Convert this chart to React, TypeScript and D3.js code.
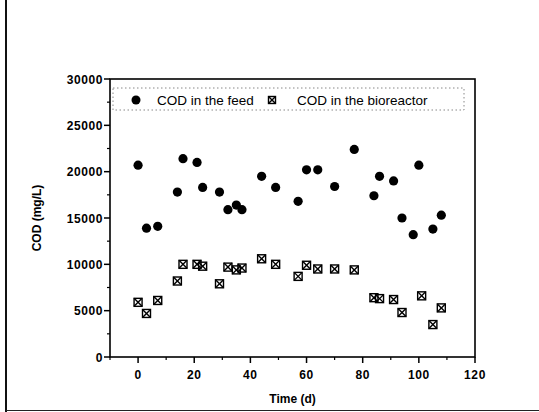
import React from "react";
import * as d3 from "d3";

const feedTime = [0, 3, 7, 14, 16, 21, 23, 29, 32, 35, 37, 44, 49, 57, 60, 64, 70, 77, 84, 86, 91, 94, 98, 100, 105, 108];
const feedCOD = [20700, 13900, 14100, 17800, 21400, 21000, 18300, 17800, 15900, 16400, 15900, 19500, 18300, 16800, 20200, 20200, 18400, 22400, 17400, 19500, 19000, 15000, 13200, 20700, 13800, 15300];
const bioTime = [0, 3, 7, 14, 16, 21, 23, 29, 32, 35, 37, 44, 49, 57, 60, 64, 70, 77, 84, 86, 91, 94, 101, 105, 108];
const bioCOD = [5900, 4700, 6100, 8200, 10000, 10000, 9800, 7900, 9700, 9400, 9600, 10600, 10000, 8700, 9900, 9500, 9500, 9400, 6400, 6300, 6200, 4800, 6600, 3500, 5300];
const xTicks = [0, 20, 40, 60, 80, 100, 120];
const xMinor = [-10, 10, 30, 50, 70, 90, 110];
const yTicks = [0, 5000, 10000, 15000, 20000, 25000, 30000];
const yMinor = [2500, 7500, 12500, 17500, 22500, 27500];
const seriesNames = ["COD in the feed", "COD in the bioreactor"];

const W = 539, H = 412;
const L = 110, R = 475, T = 79, B = 357;
const font = "'Liberation Sans', Arial, sans-serif";

function BioMarker({ x, y, s = 4 }: { x: number; y: number; s?: number }) {
  return (
    <g transform={`translate(${x},${y})`} stroke="#000" strokeWidth={1.4} fill="none">
      <rect x={-s} y={-s} width={2 * s} height={2 * s} />
      <line x1={-s} y1={-s} x2={s} y2={s} />
      <line x1={-s} y1={s} x2={s} y2={-s} />
    </g>
  );
}

export default function App() {
  const x = d3.scaleLinear().domain([-10, 120]).range([L, R]);
  const y = d3.scaleLinear().domain([0, 30000]).range([B, T]);
  return (
    <svg width={W} height={H} style={{ position: "absolute", left: 0, top: 0, background: "#fff" }} fontFamily={font}>
      <rect x={0} y={0} width={W} height={H} fill="#fff" />
      {/* page scan borders */}
      <line x1={6} y1={0} x2={6} y2={H} stroke="#111" strokeWidth={2} />
      <line x1={6} y1={410.5} x2={W} y2={410.5} stroke="#222" strokeWidth={1.2} />
      {/* frame */}
      <rect x={L} y={T} width={R - L} height={B - T} fill="none" stroke="#000" strokeWidth={1.6} />
      {/* x ticks */}
      {xTicks.map((t) => (
        <g key={"xt" + t}>
          <line x1={x(t)} x2={x(t)} y1={B} y2={B + 6} stroke="#000" strokeWidth={1.5} />
          <text x={x(t)} y={379} textAnchor="middle" fontSize={12} fontWeight="bold" letterSpacing={0.6}>{t}</text>
        </g>
      ))}
      {xMinor.map((t) => (
        <line key={"xm" + t} x1={x(t)} x2={x(t)} y1={B} y2={B + 3} stroke="#000" strokeWidth={1.2} />
      ))}
      {yTicks.map((v) => (
        <g key={"yt" + v}>
          <line x1={L - 6} x2={L} y1={y(v)} y2={y(v)} stroke="#000" strokeWidth={1.5} />
          <text x={103} y={y(v) + 4.5} textAnchor="end" fontSize={12} fontWeight="bold" letterSpacing={0.6}>{v}</text>
        </g>
      ))}
      {yMinor.map((v) => (
        <line key={"ym" + v} x1={L - 3} x2={L} y1={y(v)} y2={y(v)} stroke="#000" strokeWidth={1.2} />
      ))}
      {/* axis titles */}
      <text x={(L + R) / 2} y={403} textAnchor="middle" fontSize={12} fontWeight="bold">Time (d)</text>
      <text transform={`translate(41,${(T + B) / 2}) rotate(-90)`} textAnchor="middle" fontSize={12} fontWeight="bold">COD (mg/L)</text>
      {/* legend */}
      <rect x={113} y={88} width={351} height={22} fill="none" stroke="#888" strokeWidth={1} strokeDasharray="1.5,2.5" />
      <circle cx={136} cy={100} r={4.5} fill="#000" />
      <text x={157} y={104.5} fontSize={13.5}>{seriesNames[0]}</text>
      <BioMarker x={272} y={100} s={3.5} />
      <text x={297} y={104.5} fontSize={13.5}>{seriesNames[1]}</text>
      {/* data */}
      {feedTime.map((t, i) => (
        <circle key={"f" + i} cx={x(t)} cy={y(feedCOD[i])} r={4.6} fill="#000" />
      ))}
      {bioTime.map((t, i) => (
        <BioMarker key={"b" + i} x={x(t)} y={y(bioCOD[i])} />
      ))}
    </svg>
  );
}
